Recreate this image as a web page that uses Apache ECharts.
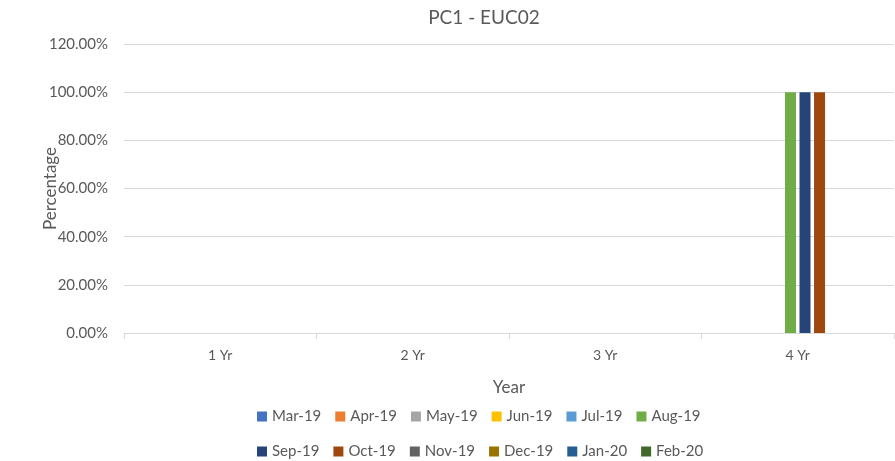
<!DOCTYPE html>
<html>
<head>
<meta charset="utf-8">
<script src="https://cdn.jsdelivr.net/npm/echarts@6/dist/echarts.min.js"></script>
<style>
  html, body { margin: 0; padding: 0; background: #fff; }
  #chart { width: 895px; height: 461px; }
</style>
</head>
<body>
<div id="chart"></div>
<script>
const categories = ['1 Yr', '2 Yr', '3 Yr', '4 Yr']
const months = ['Mar-19', 'Apr-19', 'May-19', 'Jun-19', 'Jul-19', 'Aug-19',
  'Sep-19', 'Oct-19', 'Nov-19', 'Dec-19', 'Jan-20', 'Feb-20']

// share per period, 1 = 100%
const mar19 = [0, 0, 0, 0]
const apr19 = [0, 0, 0, 0]
const may19 = [0, 0, 0, 0]
const jun19 = [0, 0, 0, 0]
const jul19 = [0, 0, 0, 0]
const aug19 = [0, 0, 0, 1]
const sep19 = [0, 0, 0, 1]
const oct19 = [0, 0, 0, 1]
const nov19 = [0, 0, 0, 0]
const dec19 = [0, 0, 0, 0]
const jan20 = [0, 0, 0, 0]
const feb20 = [0, 0, 0, 0]
const yTicks = [0, 0.2, 0.4, 0.6, 0.8, 1.0, 1.2]

const values = [mar19, apr19, may19, jun19, jul19, aug19, sep19, oct19, nov19, dec19, jan20, feb20]
const colors = ['#4472C4', '#ED7D31', '#A5A5A5', '#FFC000', '#5B9BD5', '#70AD47',
  '#264478', '#9E480E', '#636363', '#997300', '#255E91', '#43682B']

const textColor = '#595959'
const font = 'Lato, "Open Sans", sans-serif'

const chart = echarts.init(document.getElementById('chart'))

function legendRow(names, top) {
  return {
    data: names,
    left: 252,
    top: top,
    itemWidth: 10,
    itemHeight: 10,
    itemGap: 14,
    icon: 'rect',
    textStyle: { color: textColor, fontSize: 15, fontFamily: font },
  }
}

chart.setOption({
  animation: false,
  color: colors,
  title: {
    text: 'PC1 - EUC02',
    left: 479,
    top: 3,
    textAlign: 'center',
    textStyle: { color: textColor, fontSize: 19, fontWeight: 'normal', fontFamily: font },
  },
  legend: [
    legendRow(months.slice(0, 6), 404),
    legendRow(months.slice(6), 439),
  ],
  grid: { left: 124, right: 1, top: 44, bottom: 128 },
  xAxis: {
    type: 'category',
    data: categories,
    name: 'Year',
    nameLocation: 'middle',
    nameGap: 46,
    nameMoveOverlap: false,
    nameTextStyle: { color: textColor, fontSize: 17, fontFamily: font },
    axisLine: { lineStyle: { color: '#d9d9d9' } },
    axisTick: { show: true, length: 6, lineStyle: { color: '#d9d9d9' } },
    axisLabel: { color: textColor, fontSize: 14, fontFamily: font, margin: 15 },
  },
  yAxis: {
    type: 'value',
    min: yTicks[0],
    max: yTicks[yTicks.length - 1],
    interval: yTicks[1] - yTicks[0],
    name: 'Percentage',
    nameLocation: 'middle',
    nameRotate: 90,
    nameGap: 65,
    nameMoveOverlap: false,
    nameTextStyle: { color: textColor, fontSize: 17, fontFamily: font },
    axisLine: { show: false },
    axisTick: { show: false },
    axisLabel: {
      color: textColor,
      fontSize: 15,
      fontFamily: font,
      margin: 16,
      formatter: (v) => (v * 100).toFixed(2) + '%',
    },
    splitLine: { lineStyle: { color: '#d9d9d9' } },
  },
  series: months.map((name, i) => ({
    name: name,
    type: 'bar',
    data: values[i],
    barWidth: 11,
    barGap: '32%',
  })),
})
</script>
</body>
</html>
